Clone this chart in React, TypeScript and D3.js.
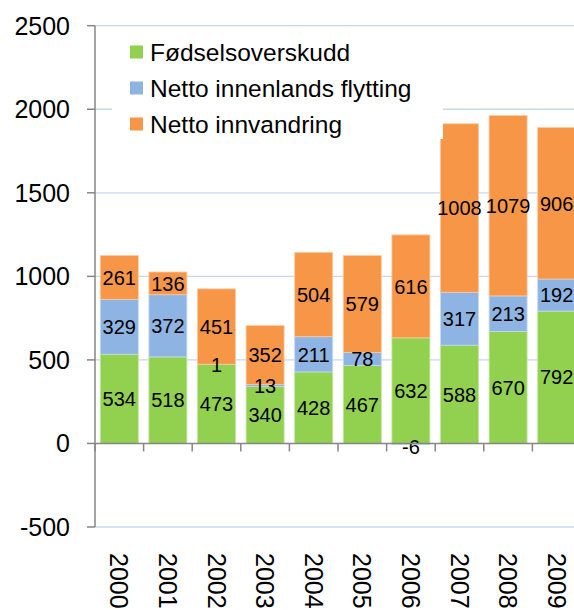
import React, { useRef, useEffect } from 'react';
import * as d3 from 'd3';

const years = ['2000', '2001', '2002', '2003', '2004', '2005', '2006', '2007', '2008', '2009'];
const births = [534, 518, 473, 340, 428, 467, 632, 588, 670, 792];
const domestic = [329, 372, 1, 13, 211, 78, -6, 317, 213, 192];
const immigration = [261, 136, 451, 352, 504, 579, 616, 1008, 1079, 906];
const yTicks = [-500, 0, 500, 1000, 1500, 2000, 2500];

const seriesNames = ['Fødselsoverskudd', 'Netto innenlands flytting', 'Netto innvandring'];
const seriesColors = ['#92d050', '#8db4e2', '#f79646'];
const seriesEdges = ['#c3e6a0', '#c6d9f1', '#fbc9a0'];

const App: React.FC = () => {
  const svgRef = useRef<SVGSVGElement | null>(null);

  useEffect(() => {
    if (!svgRef.current) return;
    const svg = d3.select(svgRef.current);
    svg.selectAll('*').remove();

    const font = "'Liberation Sans', Arial, sans-serif";
    const left = 95;

    const rows = years.map((yr, i) => ({
      year: yr,
      s0: births[i],
      s1: domestic[i],
      s2: immigration[i],
    }));

    const x = d3.scaleBand<string>()
      .domain(years)
      .range([left, left + 48.6 * years.length])
      .paddingInner(0.218)
      .paddingOuter(0.109);

    const y = d3.scaleLinear().domain([-500, 2500]).range([527, 25.7]);

    // Grid lines
    svg.append('g')
      .selectAll('line')
      .data(yTicks.filter(t => t !== 0))
      .join('line')
      .attr('x1', left)
      .attr('x2', 574)
      .attr('y1', d => y(d))
      .attr('y2', d => y(d))
      .attr('stroke', '#c6d9f1')
      .attr('stroke-width', 1.3);

    const stack = d3.stack<any>()
      .keys(['s0', 's1', 's2'])
      .offset(d3.stackOffsetDiverging);
    const layers = stack(rows);

    // Bars
    layers.forEach((layer, k) => {
      svg.append('g')
        .selectAll('rect')
        .data(layer)
        .join('rect')
        .attr('x', d => x(d.data.year)!)
        .attr('width', x.bandwidth())
        .attr('y', d => y(Math.max(d[0], d[1])))
        .attr('height', d => Math.abs(y(d[0]) - y(d[1])))
        .attr('fill', seriesColors[k])
        .attr('stroke', seriesEdges[k])
        .attr('stroke-width', 0.8);
    });

    // Legend box (covers grid and part of a bar)
    svg.append('rect')
      .attr('x', 112).attr('y', 30)
      .attr('width', 331).attr('height', 109)
      .attr('fill', '#fff');

    seriesNames.forEach((name, i) => {
      const cy = 52 + i * 36;
      svg.append('rect')
        .attr('x', 130).attr('y', cy - 6.5)
        .attr('width', 13).attr('height', 13)
        .attr('fill', seriesColors[i]);
      svg.append('text')
        .attr('x', 150).attr('y', cy)
        .attr('dy', '0.35em')
        .attr('font-family', font)
        .attr('font-size', 24.5)
        .attr('fill', '#000')
        .text(name);
    });

    // Data labels
    layers.forEach(layer => {
      svg.append('g')
        .selectAll('text')
        .data(layer)
        .join('text')
        .attr('x', d => x(d.data.year)! + x.bandwidth() / 2)
        .attr('y', d => y((d[0] + d[1]) / 2))
        .attr('dy', d => (Number(d.data[layer.key]) < 0 ? '0.5em' : '0.36em'))
        .attr('text-anchor', 'middle')
        .attr('font-family', font)
        .attr('font-size', 20)
        .attr('fill', '#000')
        .text(d => String(d.data[layer.key]));
    });

    // Y axis
    const axisColor = '#868686';
    svg.append('line')
      .attr('x1', left).attr('x2', left)
      .attr('y1', y(2500)).attr('y2', y(-500))
      .attr('stroke', axisColor).attr('stroke-width', 1.5);

    const yt = svg.append('g');
    yt.selectAll('line')
      .data(yTicks)
      .join('line')
      .attr('x1', 87).attr('x2', left)
      .attr('y1', d => y(d)).attr('y2', d => y(d))
      .attr('stroke', axisColor).attr('stroke-width', 1.5);
    yt.selectAll('text')
      .data(yTicks)
      .join('text')
      .attr('x', 70)
      .attr('y', d => y(d))
      .attr('dy', '0.36em')
      .attr('text-anchor', 'end')
      .attr('font-family', font)
      .attr('font-size', 25)
      .attr('fill', '#000')
      .text(d => String(d));

    // X axis at zero
    const x0 = y(0);
    svg.append('line')
      .attr('x1', left).attr('x2', 574)
      .attr('y1', x0).attr('y2', x0)
      .attr('stroke', axisColor).attr('stroke-width', 1.5);

    const step = x.step();
    const boundaries = d3.range(years.length + 1).map(i => x.range()[0] + i * step);
    svg.append('g')
      .selectAll('line')
      .data(boundaries)
      .join('line')
      .attr('x1', d => d).attr('x2', d => d)
      .attr('y1', x0).attr('y2', x0 + 8)
      .attr('stroke', axisColor).attr('stroke-width', 1.5);

    // Year labels, rotated
    svg.append('g')
      .selectAll('text')
      .data(years)
      .join('text')
      .attr('transform', d => `translate(${x(d)! + x.bandwidth() / 2},553) rotate(90)`)
      .attr('dy', '0.36em')
      .attr('text-anchor', 'start')
      .attr('font-family', font)
      .attr('font-size', 25)
      .attr('fill', '#000')
      .text(d => d);
  }, []);

  return (
    <svg
      ref={svgRef}
      width={574}
      height={610}
      style={{ position: 'absolute', left: 0, top: 0, background: '#fff' }}
    />
  );
};

export default App;
